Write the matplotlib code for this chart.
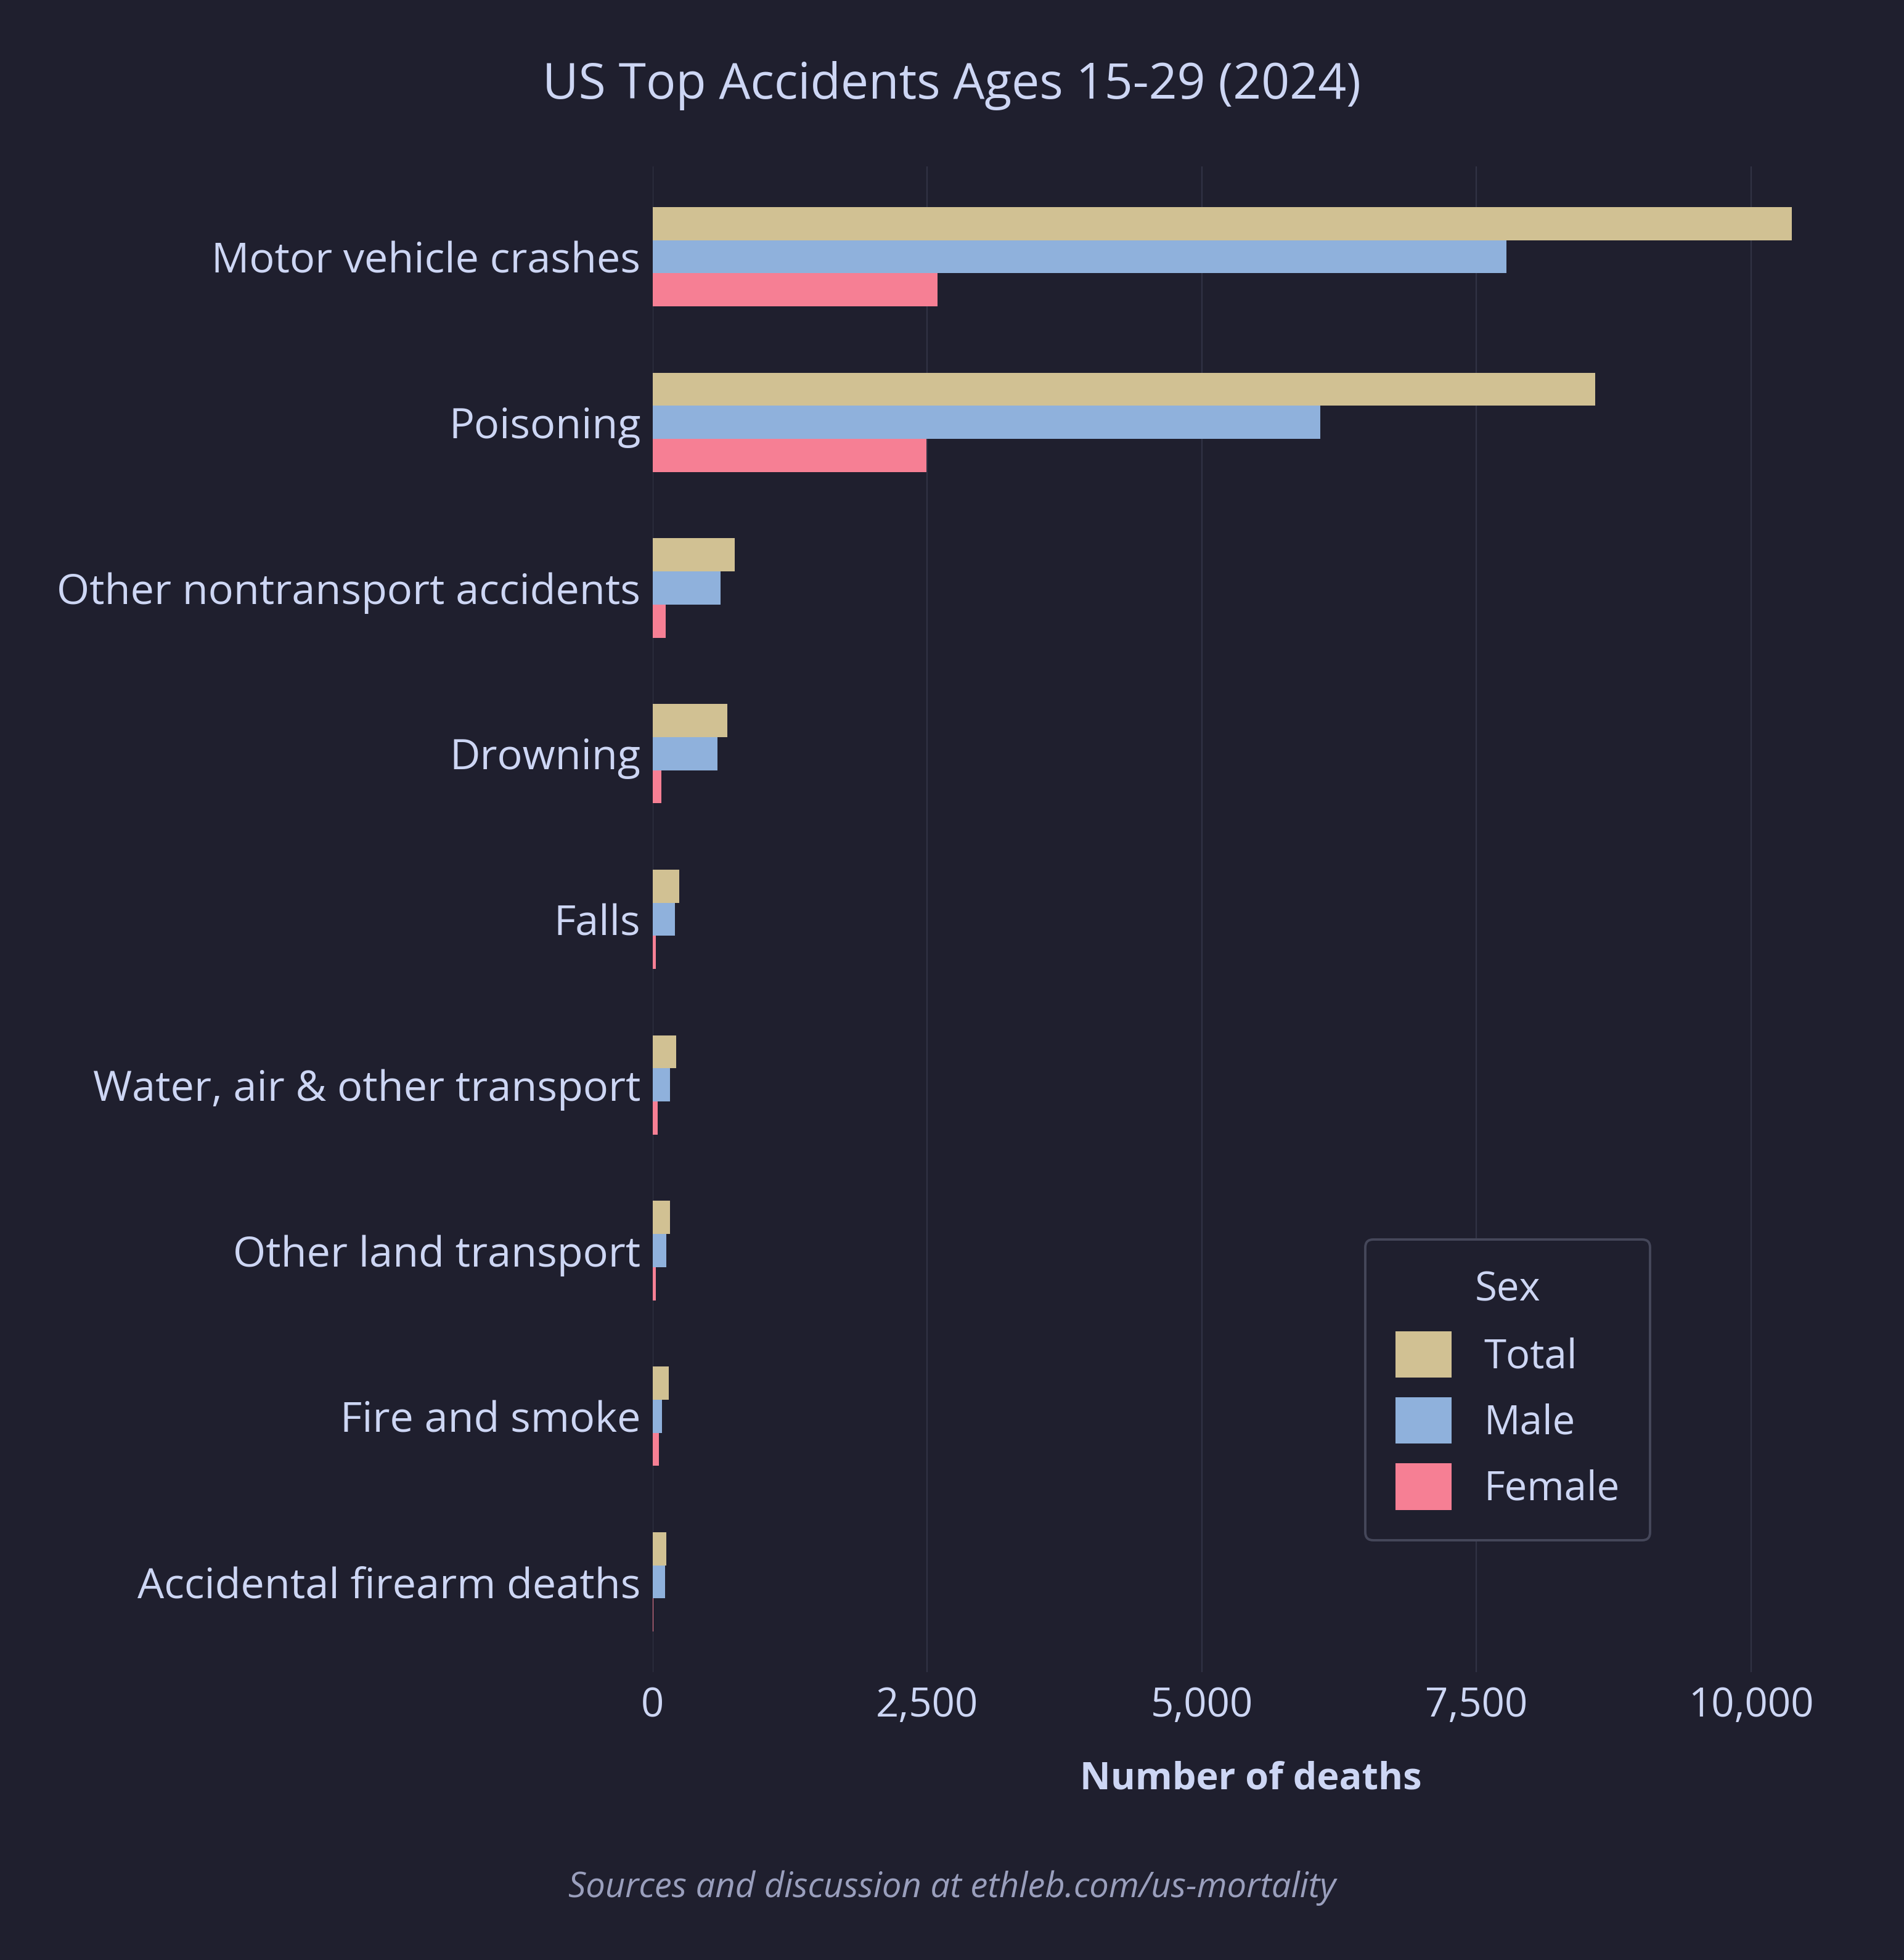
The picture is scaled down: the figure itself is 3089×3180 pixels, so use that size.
import numpy as np
import matplotlib
matplotlib.use('Agg')
import matplotlib.pyplot as plt
from matplotlib.ticker import FuncFormatter

# valores
causas = ['Motor vehicle crashes', 'Poisoning', 'Other nontransport accidents',
          'Drowning', 'Falls', 'Water, air & other transport',
          'Other land transport', 'Fire and smoke', 'Accidental firearm deaths']
total = [10370, 8580, 745, 680, 241, 213, 157, 146, 123]
homens = [7775, 6080, 617, 589, 202, 157, 123, 84, 112]
mulheres = [2591, 2492, 118, 79, 28, 45, 28, 56, 6]
series = ['Total', 'Male', 'Female']

fundo = '#1f1f2e'
texto = '#cdd6f4'
cores = ['#d1c193', '#8fb1dc', '#f67f94']

plt.rcParams['font.family'] = ['Open Sans', 'DejaVu Sans']

fig = plt.figure(figsize=(15.445, 15.9), dpi=200, facecolor=fundo)
ax = fig.add_axes([0.3428, 0.1469, 0.9709 - 0.3428, 0.9151 - 0.1469])
ax.set_facecolor(fundo)

indice = np.arange(len(causas))
bar_alt = 0.2
for i, (vals, nome) in enumerate(zip([total, homens, mulheres], series)):
    ax.barh(indice + (i - 1) * bar_alt, vals, bar_alt, color=cores[i], label=nome, zorder=3)

ax.set_ylim(len(causas) - 1 + 0.545, -0.545)
ax.set_xlim(0, max(total) * 1.05)
ax.set_xticks([0, 2500, 5000, 7500, 10000])
ax.xaxis.set_major_formatter(FuncFormatter(lambda v, p: f'{int(v):,}'))
ax.set_yticks(indice)
ax.set_yticklabels(causas)
ax.grid(axis='x', color='#313244', linewidth=0.8, zorder=0)
ax.grid(axis='y', visible=False)
for s in ax.spines.values():
    s.set_visible(False)
ax.tick_params(axis='both', length=0, labelsize=23.5, colors=texto)
ax.tick_params(axis='y', pad=7, labelsize=24.6)
ax.tick_params(axis='x', pad=8)
ax.set_xlabel('Number of deaths', fontsize=22, fontweight='bold', color=texto, labelpad=20)

leg = ax.legend(title='Sex', loc='lower right', bbox_to_anchor=(0.8666, 0.2142),
                bbox_transform=fig.transFigure, borderaxespad=0, fontsize=23.5,
                title_fontsize=23.5, handlelength=1.4, handleheight=1.40,
                labelspacing=0.49, handletextpad=0.8, borderpad=0.75,
                frameon=True, fancybox=True, facecolor=fundo, edgecolor='#45475a',
                framealpha=1)
leg.get_frame().set_linewidth(1.4)
leg.get_title().set_color(texto)
leg._legend_box.sep = 12
for t in leg.get_texts():
    t.set_color(texto)

fig.text(0.5, 1 - 160 / 3180, 'US Top Accidents Ages 15-29 (2024)', ha='center',
         va='baseline', fontsize=29, color=texto)
fig.text(0.5, 1 - 3078 / 3180, 'Sources and discussion at ethleb.com/us-mortality',
         ha='center', va='baseline', fontsize=20.2, style='italic', color='#9a9fbd')

fig.savefig('out.png', dpi=200, facecolor=fundo)
